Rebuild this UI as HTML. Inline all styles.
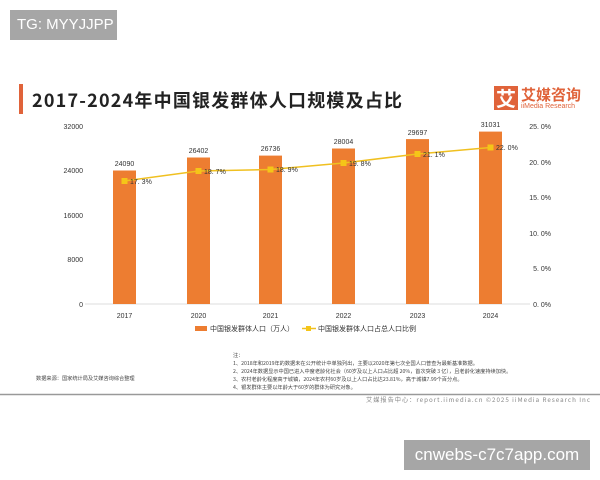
<!DOCTYPE html><html><head><meta charset="utf-8"><style>
body{margin:0;width:600px;height:480px;background:#fff;overflow:hidden;position:relative;font-family:"Liberation Sans","Noto Sans CJK SC",sans-serif}
.a{position:absolute}
</style></head><body>
<div class="a" style="left:10px;top:10px;width:107px;height:30px;background:#a6a6a6;color:#fff;font-size:15px;line-height:30px;padding-left:7px;box-sizing:border-box">TG: MYYJJPP</div>
<div class="a" style="left:19px;top:84px;width:4px;height:30px;background:#e0633a"></div>
<div class="a" style="left:32px;top:87px;font-size:18px;font-weight:bold;color:#222;letter-spacing:1.2px;font-family:'Noto Sans CJK SC',sans-serif">2017-2024年中国银发群体人口规模及占比</div>
<div class="a" style="left:494px;top:86px;width:24px;height:24px;background:#e0633a;color:#fff;font-size:20px;line-height:24px;text-align:center;font-weight:bold;font-family:'Noto Sans CJK SC',sans-serif">艾</div>
<div class="a" style="left:521px;top:84px;font-size:15px;color:#e0633a;font-weight:bold;font-family:'Noto Sans CJK SC',sans-serif">艾媒咨询</div>
<div class="a" style="left:521px;top:103px;font-size:7px;color:#e0633a">iiMedia Research</div>
<svg class="a" style="left:0;top:0" width="600" height="480" font-family="Liberation Sans" font-size="7" fill="#333">
<line x1="85" y1="304" x2="530" y2="304" stroke="#ddd"/>
<g text-anchor="end"><text x="83" y="129">32000</text><text x="83" y="173">24000</text><text x="83" y="218">16000</text><text x="83" y="262">8000</text><text x="83" y="307">0</text></g>
<g text-anchor="end"><text x="551" y="129">25. 0%</text><text x="551" y="165">20. 0%</text><text x="551" y="200">15. 0%</text><text x="551" y="236">10. 0%</text><text x="551" y="271">5. 0%</text><text x="551" y="307">0. 0%</text></g>
<g fill="#ed7d31">
<rect x="113" y="170.5" width="23" height="133.5"/><rect x="187" y="157.5" width="23" height="146.5"/><rect x="259" y="155.6" width="23" height="148.4"/><rect x="332" y="148.5" width="23" height="155.5"/><rect x="406" y="139.1" width="23" height="164.9"/><rect x="479" y="131.6" width="23" height="172.4"/></g>
<g text-anchor="middle"><text x="124.5" y="166">24090</text><text x="198.5" y="153">26402</text><text x="270.5" y="151">26736</text><text x="343.5" y="144">28004</text><text x="417.5" y="135">29697</text><text x="490.5" y="127">31031</text>
<text x="124.5" y="318">2017</text><text x="198.5" y="318">2020</text><text x="270.5" y="318">2021</text><text x="343.5" y="318">2022</text><text x="417.5" y="318">2023</text><text x="490.5" y="318">2024</text></g>
<polyline points="124.5,181 198.5,171 270.5,169.5 343.5,163 417.5,154 490.5,147.5" fill="none" stroke="#f0c020" stroke-width="1.5"/>
<g fill="#f5c518"><rect x="121.5" y="178" width="6" height="6"/><rect x="195.5" y="168" width="6" height="6"/><rect x="267.5" y="166.5" width="6" height="6"/><rect x="340.5" y="160" width="6" height="6"/><rect x="414.5" y="151" width="6" height="6"/><rect x="487.5" y="144.5" width="6" height="6"/></g>
<g><text x="130" y="184">17. 3%</text><text x="204" y="174">18. 7%</text><text x="276" y="172">18. 9%</text><text x="349" y="166">19. 8%</text><text x="423" y="157">21. 1%</text><text x="496" y="150">22. 0%</text></g>
<rect x="195" y="326" width="12" height="5" fill="#ed7d31"/>
<text x="210" y="331" font-family="Noto Sans CJK SC">中国银发群体人口（万人）</text>
<line x1="302" y1="328.5" x2="316" y2="328.5" stroke="#f0c020" stroke-width="1.5"/><rect x="306" y="326" width="5" height="5" fill="#f5c518"/>
<text x="318" y="331" font-family="Noto Sans CJK SC">中国银发群体人口占总人口比例</text>
<g font-size="5.2" font-family="Noto Sans CJK SC" fill="#444">
<text x="36" y="380">数据来源：国家统计局及艾媒咨询综合整理</text>
<text x="233" y="357">注：</text>
<text x="233" y="365">1、2018年和2019年的数据未在公开统计中单独列出，主要以2020年第七次全国人口普查为最新基准数据。</text>
<text x="233" y="373">2、2024年数据显示中国已进入中度老龄化社会（60岁及以上人口占比超 20%，首次突破 3 亿），且老龄化速度持续加快。</text>
<text x="233" y="381">3、农村老龄化程度高于城镇，2024年农村60岁及以上人口占比达23.81%，高于城镇7.99个百分点。</text>
<text x="233" y="389">4、银发群体主要以年龄大于60岁的群体为研究对象。</text>
</g>
<text x="366" y="402" font-size="6.2" font-family="Noto Sans CJK SC" fill="#888" textLength="224" lengthAdjust="spacing">艾媒报告中心：report.iimedia.cn  ©2025  iiMedia Research Inc</text>
<line x1="0" y1="394.5" x2="600" y2="394.5" stroke="#999" stroke-width="1.5"/>
</svg>
<div class="a" style="left:404px;top:440px;width:186px;height:30px;background:#a6a6a6;color:#fff;font-size:17px;line-height:30px;text-align:center">cnwebs-c7c7app.com</div>
</body></html>
